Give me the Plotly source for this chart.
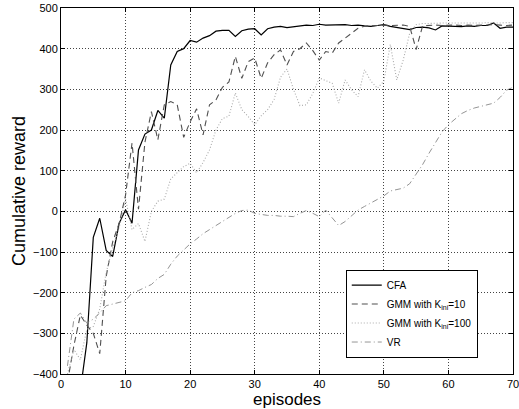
import plotly.graph_objects as go

episodes = list(range(1, 71))

cfa = [-550, -500, -440, -323, -64, -17, -96, -111, -30, 4,
       -29, 151, 190, 200, 248, 229, 360, 393, 400, 420,
       416, 426, 432, 443, 445, 445, 430, 444, 448, 449,
       434, 449, 453, 455, 452, 454, 456, 458, 457, 460,
       458, 458, 459, 459, 457, 458, 456, 455, 457, 459,
       455, 452, 449, 447, 452, 453, 451, 446, 456, 455,
       455, 454, 456, 455, 457, 457, 463, 450, 453, 453]

gmm10 = [-420, -330, -255, -280, -300, -350, -160, -75, -30, 40,
         168, 5, 170, 245, 176, 262, 270, 262, 182, 220,
         252, 188, 262, 274, 305, 318, 381, 327, 368, 377,
         327, 365, 385, 397, 360, 393, 400, 414, 395, 372,
         393, 389, 414, 425, 438, 450, 455, 456, 457, 458,
         457, 458, 458, 455, 398, 456, 457, 458, 457, 458,
         458, 457, 458, 457, 458, 458, 459, 458, 457, 458]

gmm100 = [-400, -340, -365, -290, -283, -240, -150, -90, -40, 30,
          -45, -30, -74, 0, 25, 30, 80, 95, 110, 118,
          95, 120, 151, 200, 228, 234, 291, 250, 233, 213,
          235, 250, 275, 330, 350, 300, 260, 262, 290, 328,
          322, 315, 266, 323, 299, 282, 348, 320, 303, 320,
          410, 323, 372, 438, 459, 462, 462, 463, 463, 463,
          463, 462, 463, 463, 463, 464, 463, 463, 464, 464]

vr = [-380, -265, -250, -275, -265, -250, -232, -228, -225, -220,
      -200, -195, -187, -180, -165, -155, -130, -110, -95, -80,
      -68, -55, -45, -35, -25, -15, -5, 2, 3, -5,
      -8, -10, -10, -12, -12, -13, -5, 2, -5, -13,
      3, -15, -35, -25, -10, 3, 12, 20, 28, 38,
      50, 54, 57, 68, 90, 115, 143, 170, 195, 213,
      227, 240, 248, 254, 258, 262, 266, 280, 298, 305]

x_ticks = [0, 10, 20, 30, 40, 50, 60, 70]
y_ticks = [-400, -300, -200, -100, 0, 100, 200, 300, 400, 500]

FONT = "Liberation Sans, Arial, Helvetica"

fig = go.Figure()
fig.add_trace(go.Scatter(x=episodes, y=cfa, mode="lines", name="CFA",
                         line=dict(color="black", width=1.2)))
fig.add_trace(go.Scatter(x=episodes, y=gmm10, mode="lines",
                         name="GMM with K<sub>ini</sub>=10",
                         line=dict(color="#505050", width=1.1, dash="6px,4px")))
fig.add_trace(go.Scatter(x=episodes, y=gmm100, mode="lines",
                         name="GMM with K<sub>ini</sub>=100",
                         line=dict(color="#aaaaaa", width=1.1, dash="1px,2px")))
fig.add_trace(go.Scatter(x=episodes, y=vr, mode="lines", name="VR",
                         line=dict(color="#888888", width=0.9, dash="6px,3px,1px,3px")))

axis_common = dict(
    showline=True, linecolor="black", linewidth=1, mirror="ticks",
    ticks="inside", ticklen=4, tickcolor="black",
    showgrid=True, gridcolor="#444444", gridwidth=1, griddash="1px,2px",
    zeroline=False, automargin=False, ticklabeloverflow="allow",
    tickfont=dict(family=FONT, size=11, color="black"),
)

fig.update_xaxes(range=[0, 70], tickvals=x_ticks, **axis_common)
fig.update_yaxes(range=[-400, 500], tickvals=y_ticks, **axis_common)

fig.add_annotation(text="episodes", xref="paper", yref="paper",
                   x=0.5, y=-0.069, xanchor="center", yanchor="middle",
                   showarrow=False, borderpad=0,
                   font=dict(family=FONT, size=17, color="black"))
fig.add_annotation(text="Cumulative reward", xref="paper", yref="paper",
                   x=-0.093, y=0.5, xanchor="center", yanchor="middle", textangle=-90,
                   showarrow=False, font=dict(family=FONT, size=18, color="black"))

fig.update_layout(
    width=519, height=409,
    margin=dict(l=61, r=6, t=8, b=35),
    paper_bgcolor="white", plot_bgcolor="white",
    showlegend=True,
    legend=dict(x=0.63, y=0.045, xanchor="left", yanchor="bottom",
                bgcolor="white", bordercolor="black", borderwidth=1,
                font=dict(family=FONT, size=10, color="black"),
                tracegroupgap=0, itemwidth=30),
)

fig.write_html("out.html", config={"displayModeBar": False},
               post_script="document.body.style.margin='0';document.body.style.overflow='hidden';")
